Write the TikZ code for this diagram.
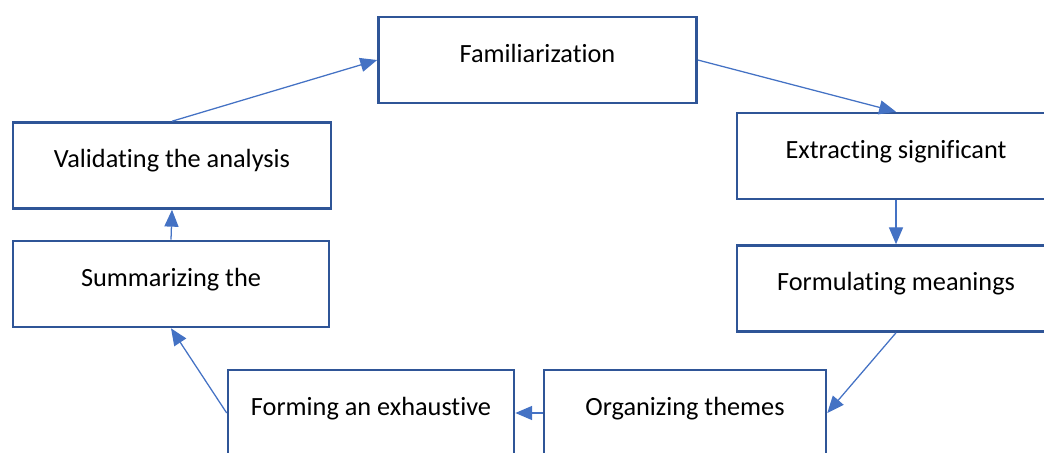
\documentclass[tikz,border=0pt]{standalone}
\usepackage{fontspec}
\setmainfont{Carlito}[Ligatures=NoCommon]
\usetikzlibrary{arrows.meta}
\definecolor{boxblue}{RGB}{47,85,151}
\definecolor{arrowblue}{RGB}{68,114,196}
\tikzset{
    stagebox/.style={draw=boxblue, line width=1.8pt, fill=white, minimum height=2.15cm,
        inner sep=0pt, text height=13pt, text depth=10pt, font=\fontsize{18.7}{22}\selectfont},
    flow/.style={draw=arrowblue, line width=0.9pt, -{Triangle[length=12pt,width=10pt]}}
}
\begin{document}
\begin{tikzpicture}[x=0.025cm, y=-0.025cm]
% Frame of the picture
\useasboundingbox (0,0) rectangle (1044,453);
\clip (0,0) rectangle (1044,453);
% Stages
\node[stagebox, minimum width=7.95cm] (fam) at (537.5,60) {Familiarization};
\node[stagebox, minimum width=7.95cm] (ext) at (896,156) {Extracting significant};
\node[stagebox, minimum width=7.95cm] (form) at (896,288.5) {Formulating meanings};
\node[stagebox, minimum width=7.05cm] (org) at (685,413) {Organizing themes};
\node[stagebox, minimum width=7.15cm] (exh) at (371,413) {Forming an exhaustive};
\node[stagebox, minimum width=7.9cm] (sum) at (171,284) {Summarizing the};
\node[stagebox, minimum width=7.95cm] (val) at (172,165.5) {Validating the analysis};
% Connectors
\draw[flow] (fam.east) -- (ext.north);
\draw[flow] (ext.south) -- (form.north);
\draw[flow] (form.south) -- (org.east);
\draw[flow] (org.west) -- (exh.east);
\draw[flow] (exh.west) -- (sum.south);
\draw[flow] (sum.north) -- (val.south);
\draw[flow] (val.north) -- (fam.west);
\end{tikzpicture}
\end{document}
